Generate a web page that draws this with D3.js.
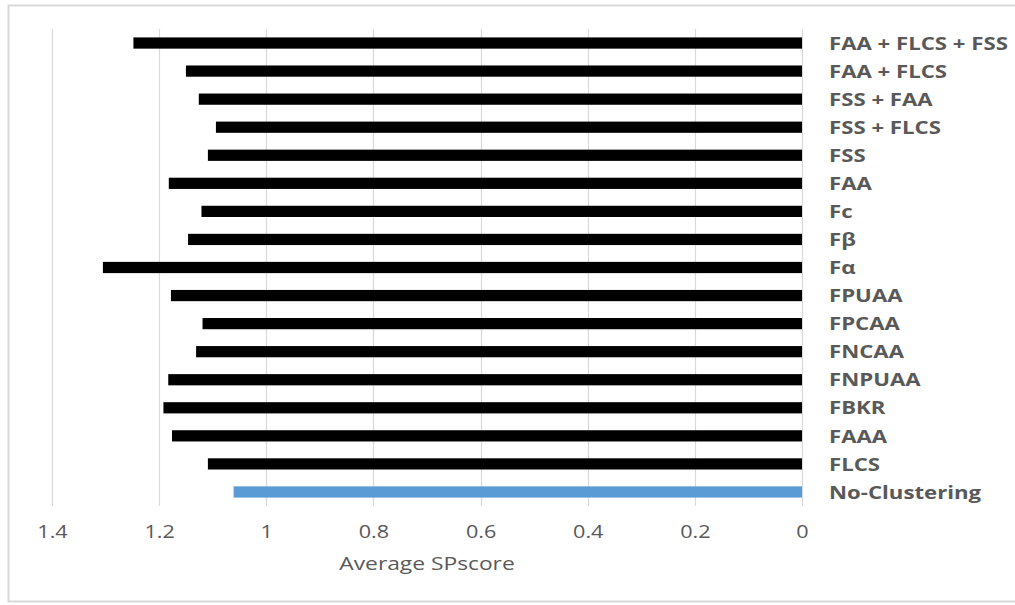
<!DOCTYPE html>
<html><head><meta charset="utf-8">
<script src="https://cdn.jsdelivr.net/npm/d3@7"></script>
<style>body{margin:0;background:#fff;} svg{display:block;}</style>
</head><body>
<svg id="chart" width="1015" height="605"></svg>
<script>
const categories = ["FAA + FLCS + FSS","FAA + FLCS","FSS + FAA","FSS + FLCS","FSS","FAA","Fc","Fβ","Fα","FPUAA","FPCAA","FNCAA","FNPUAA","FBKR","FAAA","FLCS","No-Clustering"];
const values = [1.248,1.150,1.126,1.094,1.109,1.182,1.121,1.146,1.305,1.178,1.119,1.131,1.183,1.192,1.176,1.109,1.061];
const highlight = ["No-Clustering"];
const tickValues = [1.4,1.2,1,0.8,0.6,0.4,0.2,0];
const axisTitle = "Average SPscore";

const svg = d3.select("#chart");
svg.append("rect").attr("x",8.5).attr("y",5.5).attr("width",1020).attr("height",596)
  .attr("fill","#fff").attr("stroke","#d9d9d9").attr("stroke-width",2);

const pL = 52, pR = 802, pT = 29, pB = 506;
const sx = 1.2;
const x = d3.scaleLinear().domain([0,1.4]).range([pR,pL]);
const y = d3.scaleBand().domain(categories).range([pT,pB]).paddingInner(0.6).paddingOuter(0.3);

// gridlines
svg.append("g").selectAll("line").data(tickValues).join("line")
  .attr("x1",d=>Math.round(x(d))+0.5).attr("x2",d=>Math.round(x(d))+0.5)
  .attr("y1",pT).attr("y2",pB)
  .attr("stroke","#d9d9d9").attr("stroke-width",1.2);

// bars
svg.append("g").selectAll("rect").data(categories).join("rect")
  .attr("x",(d,i)=>x(values[i]))
  .attr("width",(d,i)=>x(0)-x(values[i]))
  .attr("y",d=>y(d))
  .attr("height",y.bandwidth())
  .attr("fill",d=>highlight.includes(d)?"#5b9bd5":"#000");

// category labels
svg.append("g").selectAll("text").data(categories).join("text")
  .attr("transform",d=>`translate(829,${y(d)+y.bandwidth()/2}) scale(${sx},1)`)
  .attr("dy","0.36em")
  .attr("font-family","'Open Sans', sans-serif").attr("font-weight","bold")
  .attr("font-size",18.5).attr("fill","#595959")
  .text(d=>d);

// x axis tick labels
const axis = d3.axisBottom(x).tickValues(tickValues).tickSize(0).tickPadding(0).tickFormat(d=>String(d));
const ag = svg.append("g").attr("transform",`translate(0,${pB+26})`).call(axis);
ag.select(".domain").remove();
ag.selectAll("text").attr("font-family","'Open Sans', sans-serif").attr("font-size",18).attr("fill","#595959")
  .attr("dy","0.36em").attr("y",0).attr("transform",`scale(${sx},1)`);

svg.append("text").attr("transform",`translate(427,563) scale(${sx},1)`).attr("dy","0.36em").attr("text-anchor","middle")
  .attr("font-family","'Open Sans', sans-serif").attr("font-size",19).attr("fill","#595959")
  .text(axisTitle);
</script>
</body></html>
